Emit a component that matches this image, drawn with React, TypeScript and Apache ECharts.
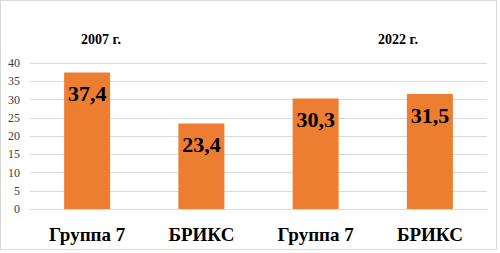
import React, { useEffect, useRef } from "react";
import * as echarts from "echarts";

const categories = ["Группа 7", "БРИКС", "Группа 7", "БРИКС"];
const values = [37.4, 23.4, 30.3, 31.5];
const yearLabels = ["2007 г.", "2022 г."];
const yTicks = [0, 5, 10, 15, 20, 25, 30, 35, 40];

export default function App() {
  const ref = useRef<HTMLDivElement>(null);
  useEffect(() => {
    if (!ref.current) return;
    const chart = echarts.init(ref.current, null, { renderer: "svg" });
    const serif = "Liberation Serif";
    chart.setOption({
      animation: false,
      grid: { left: 30, right: 13, top: 63, bottom: 44 },
      graphic: [
        {
          type: "text",
          x: 101,
          y: 39,
          style: { text: yearLabels[0], fontFamily: serif, fontWeight: "bold", fontSize: 14, fill: "#000", textAlign: "center", textVerticalAlign: "middle" },
        },
        {
          type: "text",
          x: 398,
          y: 39,
          style: { text: yearLabels[1], fontFamily: serif, fontWeight: "bold", fontSize: 14, fill: "#000", textAlign: "center", textVerticalAlign: "middle" },
        },
      ],
      xAxis: {
        type: "category",
        data: categories,
        axisLine: { show: true, lineStyle: { color: "#d9d9d9" } },
        axisTick: { show: false },
        axisLabel: { fontFamily: serif, fontWeight: "bold", fontSize: 19, color: "#000", margin: 16 },
      },
      yAxis: {
        type: "value",
        min: yTicks[0],
        max: yTicks[yTicks.length - 1],
        interval: 5,
        axisLine: { show: false },
        axisTick: { show: false },
        splitLine: { lineStyle: { color: "#d9d9d9" } },
        axisLabel: { fontFamily: serif, fontSize: 12, color: "#404040", margin: 10 },
      },
      series: [
        {
          type: "bar",
          data: values,
          barWidth: 46,
          itemStyle: { color: "#ED7D31" },
          label: {
            show: true,
            position: "insideTop",
            distance: 10,
            formatter: (p: any) => String(p.value).replace(".", ","),
            fontFamily: serif,
            fontWeight: "bold",
            fontSize: 22,
            color: "#000",
          },
        },
      ],
    });
    return () => chart.dispose();
  }, []);
  return (
    <div
      style={{
        position: "fixed",
        left: 0,
        top: 0,
        width: 500,
        height: 253,
        background: "#fff",
      }}
    >
      <div
        style={{
          position: "absolute",
          left: 0,
          top: 0,
          width: 497,
          height: 250,
          border: "1px solid #d9d9d9",
          boxSizing: "border-box",
        }}
      />
      <div ref={ref} style={{ position: "absolute", left: 0, top: 0, width: 500, height: 253 }} />
    </div>
  );
}
